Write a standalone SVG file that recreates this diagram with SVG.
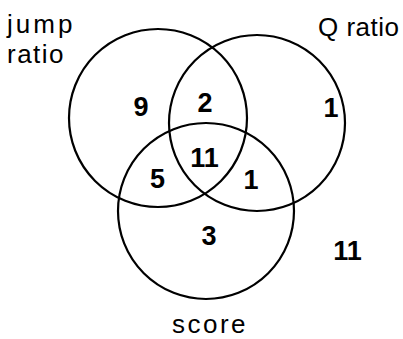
<svg xmlns="http://www.w3.org/2000/svg" width="403" height="339" viewBox="0 0 403 339">
<style>
.c{fill:none;stroke:#000;stroke-width:2.2}
.l{font-family:"Liberation Sans",Arial,sans-serif;font-size:26px;fill:#000}
.n{font-family:"Liberation Sans",Arial,sans-serif;font-size:27px;font-weight:bold;fill:#000;text-anchor:middle}
</style>
<rect width="403" height="339" fill="#fff"/>
<g id="jump-ratio">
<circle class="c" cx="158" cy="118" r="89"/>
<text class="l" x="7" y="33" letter-spacing="3">jump</text>
<text class="l" x="7" y="63" letter-spacing="1.5">ratio</text>
</g>
<g id="q-ratio">
<circle class="c" cx="257" cy="123" r="88"/>
<text class="l" x="318" y="36" letter-spacing="0.5">Q ratio</text>
</g>
<g id="score">
<circle class="c" cx="206" cy="211" r="88"/>
<text class="l" x="210" y="333" text-anchor="middle" letter-spacing="2.5">score</text>
</g>
<g id="counts">
<text class="n" x="141" y="116">9</text>
<text class="n" x="205" y="112">2</text>
<text class="n" x="331" y="117">1</text>
<text class="n" x="204.5" y="167">11</text>
<text class="n" x="157.5" y="188">5</text>
<text class="n" x="251" y="189">1</text>
<text class="n" x="209" y="245">3</text>
<text class="n" x="347.5" y="260">11</text>
</g>
</svg>
